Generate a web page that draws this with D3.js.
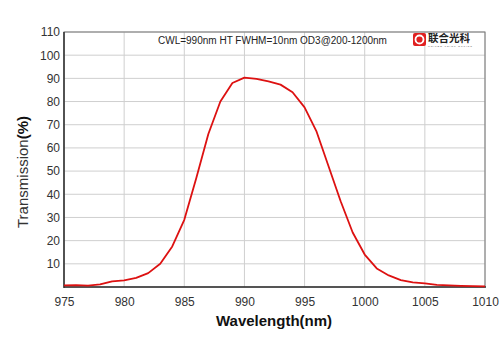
<!doctype html>
<html lang="en">
<head>
  <meta charset="utf-8">
  <title>CWL=990nm HT FWHM=10nm</title>
  <script type="text/javascript" src="https://cdnjs.cloudflare.com/ajax/libs/d3/7.8.5/d3.min.js"></script>
  <style>
    body { margin: 0; background: #fff; }
    text { font-family: "Liberation Sans", Arial, sans-serif; }
  </style>
</head>
<body>
  <svg width="500" height="353" id="svg"></svg>
</body>
<script type="text/javascript">

  // transmission curve, one reading per nm
  var wavelength = d3.range(975, 1011);
  var transmission = [0.7, 0.8, 0.6, 1.1, 2.4, 2.9, 3.9, 6.0, 10.0, 17.5,
                      29.0, 47.0, 66.0, 80.0, 88.0, 90.3, 89.8, 88.7, 87.3, 84.0,
                      77.5, 67.0, 52.0, 37.0, 23.5, 14.0, 8.0, 5.0, 3.0, 2.0,
                      1.6, 0.9, 0.7, 0.5, 0.4, 0.3];
  var xTicks = [975, 980, 985, 990, 995, 1000, 1005, 1010];
  var yTicks = [10, 20, 30, 40, 50, 60, 70, 80, 90, 100, 110];
  var note = "CWL=990nm HT FWHM=10nm OD3@200-1200nm";

  // plot box (window.top is taken, so prefixed names)
  var pLeft = 64, pRight = 485, pTop = 32, pBottom = 287;

  var x = d3.scaleLinear().domain([975, 1010]).range([pLeft, pRight]);
  var y = d3.scaleLinear().domain([0, 110]).range([pBottom, pTop]);

  var svg = d3.select('#svg');

  // grid
  svg.append('g')
    .selectAll('line')
    .data(yTicks)
    .enter().append('line')
      .attr('x1', pLeft).attr('x2', pRight)
      .attr('y1', function(d) { return y(d); })
      .attr('y2', function(d) { return y(d); })
      .attr('stroke', '#cfcfcf').attr('stroke-width', 1);

  svg.append('g')
    .selectAll('line')
    .data(xTicks)
    .enter().append('line')
      .attr('y1', pTop).attr('y2', pBottom)
      .attr('x1', function(d) { return x(d); })
      .attr('x2', function(d) { return x(d); })
      .attr('stroke', '#cfcfcf').attr('stroke-width', 1);

  // frame
  svg.append('rect')
    .attr('x', pLeft).attr('y', pTop)
    .attr('width', pRight - pLeft).attr('height', pBottom - pTop)
    .attr('fill', 'none').attr('stroke', '#777').attr('stroke-width', 1);

  // axes, labels only
  var xAxis = svg.append('g')
    .attr('transform', 'translate(0,' + pBottom + ')')
    .call(d3.axisBottom(x).tickValues(xTicks).tickFormat(d3.format('d')).tickSize(0).tickPadding(10));
  var yAxis = svg.append('g')
    .attr('transform', 'translate(' + pLeft + ',0)')
    .call(d3.axisLeft(y).tickValues(yTicks).tickFormat(d3.format('d')).tickSize(0).tickPadding(4));

  [xAxis, yAxis].forEach(function(a) {
    a.select('.domain').remove();
    a.selectAll('text')
      .attr('fill', '#333')
      .style('font-size', '12px')
      .style('font-family', '"Liberation Sans", Arial, sans-serif');
  });
  svg.append('line')
    .attr('x1', pLeft).attr('x2', pLeft).attr('y1', pTop).attr('y2', pBottom + 1)
    .attr('stroke', '#333').attr('stroke-width', 1.5);
  svg.append('line')
    .attr('x1', pLeft).attr('x2', pRight + 1).attr('y1', pBottom).attr('y2', pBottom)
    .attr('stroke', '#333').attr('stroke-width', 1.5);

  // curve
  var line = d3.line()
    .x(function(d, i) { return x(wavelength[i]); })
    .y(function(d) { return y(d); });

  svg.append('path')
    .datum(transmission)
    .attr('d', line)
    .attr('fill', 'none')
    .attr('stroke', '#dd1111')
    .attr('stroke-width', 1.8)
    .attr('stroke-linejoin', 'round');

  // titles
  svg.append('text')
    .attr('x', 274).attr('y', 326)
    .attr('text-anchor', 'middle')
    .style('font-size', '15px').style('font-weight', 'bold')
    .attr('fill', '#111')
    .text('Wavelength(nm)');

  var yt = svg.append('text')
    .attr('transform', 'translate(28,172) rotate(-90)')
    .attr('text-anchor', 'middle')
    .style('font-size', '15px')
    .attr('fill', '#333');
  yt.append('tspan').style('font-weight', 'normal').text('Transmission');
  yt.append('tspan').style('font-weight', 'bold').attr('fill', '#111').text('(%)');

  svg.append('text')
    .attr('x', 158).attr('y', 44)
    .style('font-size', '10px')
    .attr('fill', '#222')
    .text(note);

  // logo
  var logo = svg.append('g').attr('transform', 'translate(413,33)');
  logo.append('rect')
    .attr('width', 13).attr('height', 13).attr('rx', 2)
    .attr('fill', '#e02020');
  logo.append('circle')
    .attr('cx', 6.5).attr('cy', 6.5).attr('r', 4)
    .attr('fill', 'none').attr('stroke', '#fff').attr('stroke-width', 1.8);
  logo.append('text')
    .attr('x', 15).attr('y', 9)
    .style('font-family', '"Noto Sans CJK SC", sans-serif')
    .style('font-size', '10.5px').style('font-weight', 'bold')
    .attr('fill', '#222')
    .text('联合光科');
  logo.append('text')
    .attr('x', 15).attr('y', 14)
    .style('font-size', '2.5px')
    .attr('fill', '#555')
    .attr('textLength', 44)
    .text('UNITED  JOINT  OPTICS');

</script>
</html>
